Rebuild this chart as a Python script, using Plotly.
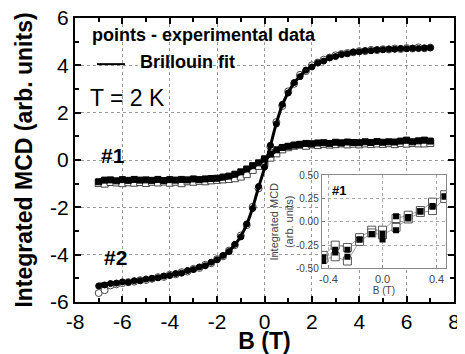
import plotly.graph_objects as go

# ---------------- data ----------------
B = [-7.0, -6.75, -6.5, -6.25, -6.0, -5.75, -5.5, -5.25, -5.0, -4.75, -4.5, -4.25,
     -4.0, -3.75, -3.5, -3.25, -3.0, -2.75, -2.5, -2.25, -2.0, -1.75, -1.5, -1.25,
     -1.0, -0.75, -0.5, -0.25, 0.0, 0.25, 0.5, 0.75, 1.0, 1.25, 1.5, 1.75, 2.0,
     2.25, 2.5, 2.75, 3.0, 3.25, 3.5, 3.75, 4.0, 4.25, 4.5, 4.75, 5.0, 5.25, 5.5,
     5.75, 6.0, 6.25, 6.5, 6.75, 7.0]

# sample #2 (circles)
fit2 = [-5.25, -5.23, -5.21, -5.19, -5.17, -5.15, -5.12, -5.09, -5.05, -5.01, -4.97, -4.92,
        -4.87, -4.82, -4.76, -4.69, -4.62, -4.54, -4.45, -4.34, -4.21, -4.05, -3.85, -3.58,
        -3.22, -2.72, -2.02, -1.15, -0.35, 0.6, 1.55, 2.32, 2.85, 3.25, 3.55, 3.78, 3.95,
        4.08, 4.2, 4.3, 4.38, 4.45, 4.5, 4.54, 4.58, 4.61, 4.63, 4.65, 4.67, 4.68, 4.69,
        4.7, 4.71, 4.71, 4.72, 4.72, 4.73]
filled2 = [-5.32, -5.28, -5.22, -5.2, -5.15, -5.17, -5.1, -5.1, -5.03, -5.0, -4.98, -4.9,
           -4.88, -4.8, -4.78, -4.67, -4.63, -4.52, -4.47, -4.32, -4.22, -4.03, -3.87, -3.56,
           -3.25, -2.7, -2.05, -1.12, -0.3, 0.62, 1.52, 2.35, 2.83, 3.27, 3.52, 3.8, 3.93,
           4.1, 4.18, 4.32, 4.37, 4.46, 4.49, 4.56, 4.57, 4.62, 4.62, 4.66, 4.66, 4.69, 4.68,
           4.71, 4.7, 4.72, 4.71, 4.73, 4.74]
open2 = [-5.62, -5.5, -5.3, -5.25, -5.2, -5.16, -5.14, -5.08, -5.07, -5.02, -4.95, -4.94,
         -4.85, -4.83, -4.74, -4.71, -4.6, -4.56, -4.43, -4.36, -4.19, -4.07, -3.83, -3.6,
         -3.19, -2.75, -1.98, -1.2, -0.25, 0.56, 1.6, 2.28, 2.9, 3.22, 3.6, 3.76, 4.0,
         4.12, 4.24, 4.33, 4.42, 4.48, 4.52, 4.55, 4.6, 4.6, 4.65, 4.64, 4.68, 4.67, 4.71,
         4.69, 4.73, 4.71, 4.76, 4.72, 4.75]

# sample #1 (squares)
fit1 = [-0.86, -0.86, -0.86, -0.86, -0.86, -0.86, -0.86, -0.86, -0.85, -0.85, -0.85, -0.85,
        -0.85, -0.85, -0.85, -0.84, -0.84, -0.84, -0.84, -0.83, -0.82, -0.79, -0.74, -0.67,
        -0.57, -0.44, -0.3, -0.16, 0.0, 0.2, 0.38, 0.5, 0.57, 0.61, 0.65, 0.68, 0.7,
        0.71, 0.72, 0.72, 0.73, 0.73, 0.74, 0.74, 0.74, 0.75, 0.75, 0.75, 0.75, 0.76, 0.76,
        0.76, 0.76, 0.77, 0.77, 0.77, 0.77]
filled1 = [-0.92, -0.85, -0.84, -0.88, -0.83, -0.86, -0.82, -0.85, -0.84, -0.86, -0.82, -0.87,
           -0.83, -0.85, -0.82, -0.84, -0.8, -0.83, -0.8, -0.78, -0.77, -0.72, -0.68, -0.6,
           -0.5, -0.38, -0.24, -0.12, 0.05, 0.25, 0.43, 0.53, 0.58, 0.63, 0.66, 0.7, 0.68,
           0.72, 0.73, 0.7, 0.75, 0.72, 0.76, 0.74, 0.73, 0.77, 0.74, 0.78, 0.75, 0.77, 0.76,
           0.8, 0.84, 0.77, 0.81, 0.84, 0.8]
open1 = [-0.97, -1.0, -0.93, -0.95, -0.98, -0.94, -0.96, -0.93, -0.97, -0.92, -0.95, -0.91,
         -0.96, -0.92, -0.98, -0.9, -0.92, -0.88, -0.9, -0.86, -0.84, -0.82, -0.8, -0.77,
         -0.7, -0.6, -0.42, -0.25, -0.05, 0.1, 0.28, 0.45, 0.54, 0.6, 0.64, 0.6, 0.66,
         0.63, 0.68, 0.65, 0.67, 0.7, 0.66, 0.69, 0.66, 0.7, 0.67, 0.7, 0.68, 0.71, 0.67,
         0.72, 0.69, 0.72, 0.7, 0.7, 0.72]

# inset (#1 near zero field)
B_in = [-0.44, -0.35, -0.26, -0.17, -0.08, 0.0, 0.1, 0.19, 0.28, 0.37, 0.46]
in_open_up = [-0.36, -0.25, -0.275, -0.17, -0.09, -0.09, 0.035, 0.07, 0.12, 0.21, 0.29]
in_fill_up = [-0.38, -0.30, -0.30, -0.19, -0.13, -0.13, 0.06, 0.05, 0.11, 0.17, 0.27]
in_open_dn = [-0.40, -0.375, -0.42, -0.21, -0.12, -0.14, -0.06, 0.03, 0.10, 0.12, 0.25]
in_fill_dn = [-0.42, -0.33, -0.375, -0.19, -0.13, -0.19, -0.09, 0.035, 0.11, 0.16, 0.27]

x_ticks = [-8, -6, -4, -2, 0, 2, 4, 6, 8]
x_ticktext = ["-8", "-6", "-4", "-2", "0", "2", "4", "6", "8"]
y_ticks = [-6, -4, -2, 0, 2, 4, 6]
y_ticktext = ["-6", "-4", "-2", "0", "2", "4", "6"]
xin_ticks = [-0.4, 0.0, 0.4]
xin_ticktext = ["-0.4", "0.0", "0.4"]
yin_ticks = [-0.5, -0.25, 0.0, 0.25, 0.5]
yin_ticktext = ["-0.50", "-0.25", "0.00", "0.25", "0.50"]

FONT = "Liberation Sans, Arial, sans-serif"

fig = go.Figure()

def open_marker(sym, size=7):
    return dict(symbol=sym, size=size, color="white", line=dict(color="#444", width=1))

def fill_marker(sym, size=6):
    return dict(symbol=sym, size=size, color="black", line=dict(color="black", width=1))

# main data
fig.add_trace(go.Scatter(x=B, y=open1, mode="markers", marker=open_marker("square")))
fig.add_trace(go.Scatter(x=B, y=filled1, mode="markers", marker=fill_marker("square", 6)))
fig.add_trace(go.Scatter(x=B, y=open2, mode="markers", marker=open_marker("circle")))
fig.add_trace(go.Scatter(x=B, y=filled2, mode="markers", marker=fill_marker("circle", 6)))
fig.add_trace(go.Scatter(x=B, y=fit1, mode="lines", line=dict(color="black", width=3, shape="spline")))
fig.add_trace(go.Scatter(x=B, y=fit2, mode="lines", line=dict(color="black", width=3, shape="spline")))

# inset data
for ys in [in_open_up, in_open_dn]:
    fig.add_trace(go.Scatter(x=B_in, y=ys, mode="lines+markers", xaxis="x2", yaxis="y2",
                             line=dict(color="#888", width=0.8),
                             marker=dict(symbol="square", size=8, color="white",
                                         line=dict(color="#555", width=1))))
for ys in [in_fill_up, in_fill_dn]:
    fig.add_trace(go.Scatter(x=B_in, y=ys, mode="markers", xaxis="x2", yaxis="y2",
                             marker=dict(symbol="square", size=6, color="black")))

main_axis = dict(showline=True, linewidth=2, linecolor="black", mirror="allticks",
                 ticks="inside", ticklen=6, tickwidth=1.5, tickcolor="black",
                 showgrid=True, gridcolor="#999", griddash="dot", gridwidth=1,
                 zeroline=False, automargin=False, ticklabeloverflow="allow",
                 tickfont=dict(family=FONT, size=21, color="black"),
                 minor=dict(ticks="inside", ticklen=4, tickcolor="black", showgrid=False))

# page has an 8px body margin: figure is sized so the plot area matches the reference
fig.update_layout(
    width=457, height=346,
    margin=dict(l=67, r=11, t=10, b=52),
    paper_bgcolor="white", plot_bgcolor="white",
    showlegend=False,
    font=dict(family=FONT, color="black"),
    xaxis=dict(main_axis, range=[-8, 8], tickvals=x_ticks, ticktext=x_ticktext,
               minor=dict(main_axis["minor"], dtick=1),
               title=dict(text="<b>B (T)</b>", font=dict(size=23), standoff=0)),
    yaxis=dict(main_axis, range=[-6, 6], tickvals=y_ticks, ticktext=y_ticktext,
               minor=dict(main_axis["minor"], dtick=1),
               title=dict(text="<b>Integrated MCD (arb. units)</b>", font=dict(size=23), standoff=11)),
    xaxis2=dict(domain=[0.651, 0.979], anchor="y2", range=[-0.45, 0.47],
                tickvals=xin_ticks, ticktext=xin_ticktext, automargin=False,
                showline=True, linewidth=1, linecolor="#888", mirror=True,
                ticks="inside", ticklen=3, tickcolor="#888",
                showgrid=True, gridcolor="#aaa", griddash="dot", zeroline=False,
                tickfont=dict(size=11, color="#444"),
                title=dict(text="B (T)", font=dict(size=10, color="#444"), standoff=0)),
    yaxis2=dict(domain=[0.118, 0.447], anchor="x2", range=[-0.5, 0.5],
                tickvals=yin_ticks, ticktext=yin_ticktext, automargin=False,
                showline=True, linewidth=1, linecolor="#888", mirror=True,
                ticks="inside", ticklen=3, tickcolor="#888",
                showgrid=True, gridcolor="#aaa", griddash="dot", zeroline=False,
                tickfont=dict(size=10, color="#444"),
                title=dict(text="Integrated MCD<br>(arb. units)", font=dict(size=11, color="#444"), standoff=0)),
)

ann = [
    dict(x=-7.37, y=5.29, text="<b>points - experimental data</b>", size=18),
    dict(x=-5.34, y=4.13, text="<b>Brillouin fit</b>", size=18),
    dict(x=-7.45, y=2.6, text="T = 2 K", size=23),
    dict(x=-7.0, y=0.17, text="<b>#1</b>", size=21),
    dict(x=-6.85, y=-4.13, text="<b>#2</b>", size=21),
]
for a in ann:
    fig.add_annotation(x=a["x"], y=a["y"], xref="x", yref="y", text=a["text"],
                       showarrow=False, xanchor="left", yanchor="middle",
                       font=dict(family=FONT, size=a["size"], color="black"))
fig.add_annotation(x=-0.39, y=0.33, xref="x2", yref="y2", text="<b>#1</b>", showarrow=False,
                   xanchor="left", yanchor="middle", font=dict(family=FONT, size=13, color="black"))

# legend line sample
fig.add_shape(type="line", xref="x", yref="y", x0=-7.07, x1=-5.89, y0=4.05, y1=4.05,
              line=dict(color="black", width=2))

fig.write_html("out.html")
